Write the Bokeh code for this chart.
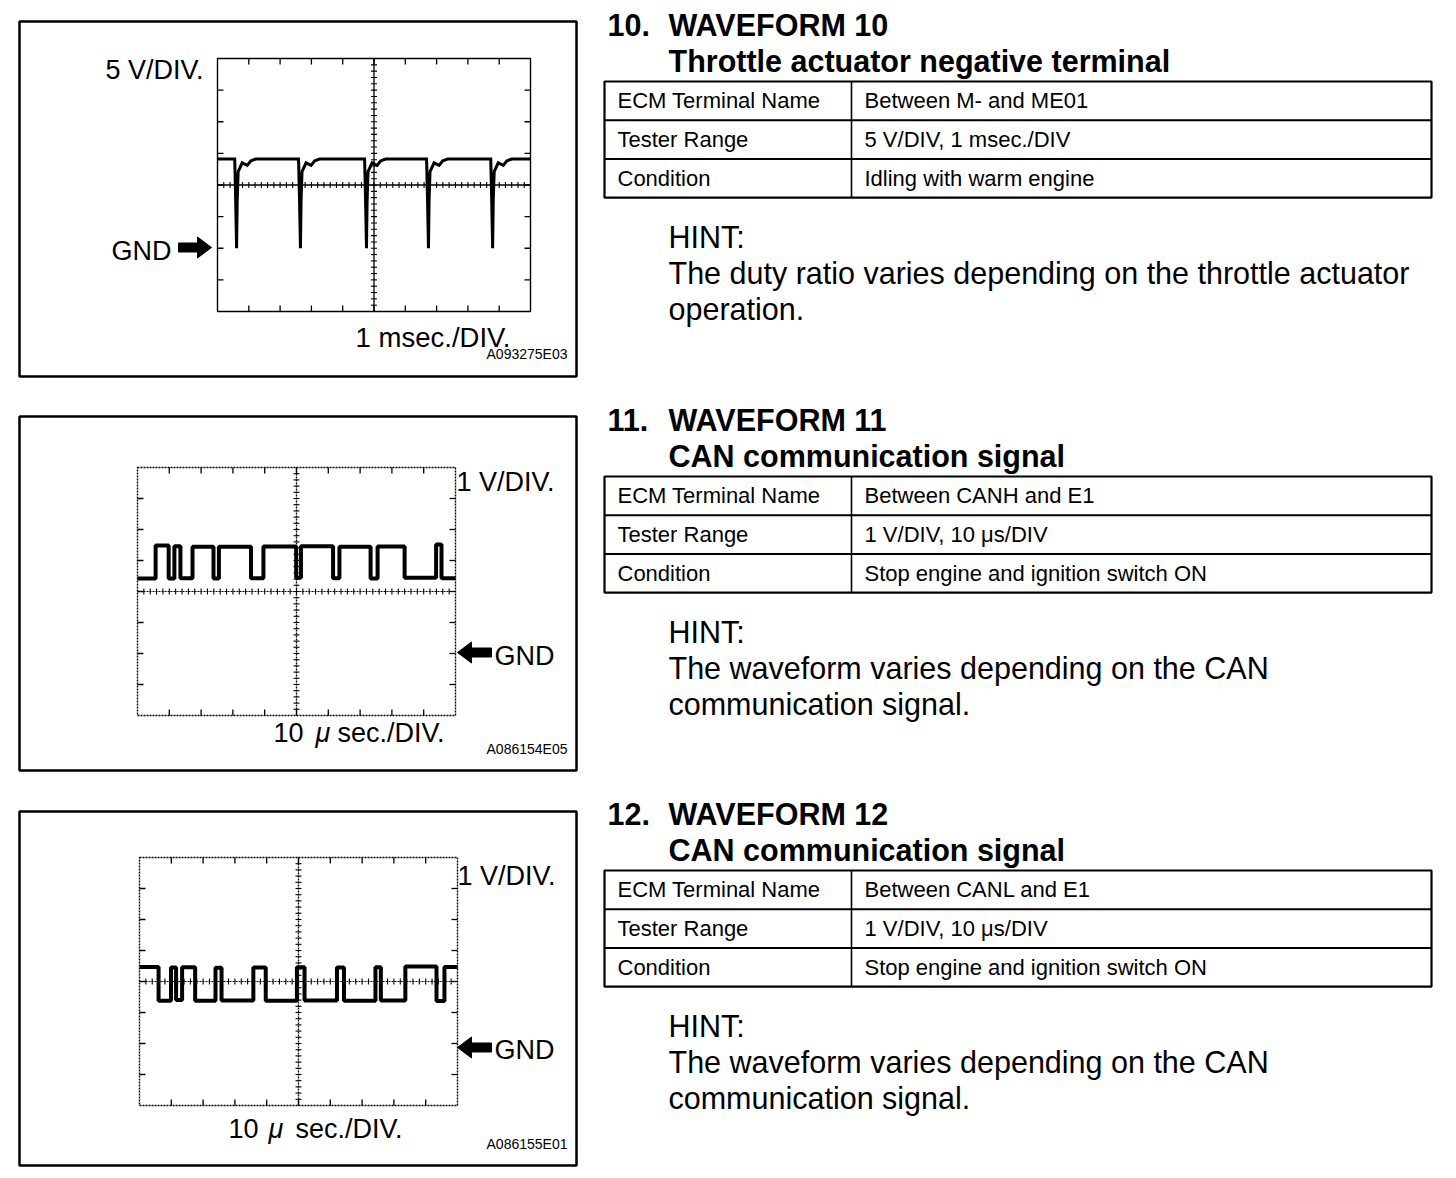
import numpy as np
from bokeh.plotting import figure
from bokeh.models import Range1d
from bokeh.core.properties import value
from bokeh.embed import file_html
from bokeh.resources import INLINE

# ------------------------------------------------------------------ data
# Waveform 10: throttle actuator negative terminal (time in ms, voltage in V)
W10_T_MS = [0.00,
            0.55, 0.58, 0.61, 0.63, 0.66, 0.79, 0.95, 1.06, 1.22,
            2.59, 2.62, 2.65, 2.67, 2.70, 2.83, 2.99, 3.10, 3.26,
            4.70, 4.73, 4.76, 4.78, 4.81, 4.94, 5.10, 5.21, 5.37,
            6.68, 6.71, 6.74, 6.76, 6.79, 6.92, 7.08, 7.19, 7.35,
            8.73, 8.76, 8.79, 8.81, 8.84, 8.97, 9.13, 9.24, 9.40,
            10.00]
W10_V = [14.1,
         14.1, 7.6, 0.0, 7.6, 12.1, 13.5, 13.1, 13.8, 14.1,
         14.1, 7.6, 0.0, 7.6, 12.1, 13.5, 13.1, 13.8, 14.1,
         14.1, 7.6, 0.0, 7.6, 12.1, 13.5, 13.1, 13.8, 14.1,
         14.1, 7.6, 0.0, 7.6, 12.1, 13.5, 13.1, 13.8, 14.1,
         14.1, 7.6, 0.0, 7.6, 12.1, 13.5, 13.1, 13.8, 14.1,
         14.1]

# Waveform 11: CANH (edge times in microseconds, level of each segment in V)
W11_EDGES_US = [0, 5.7, 9.8, 11.6, 13.5, 17.3, 23.9, 25.6, 35.7, 39.6, 49.9,
                51.4, 61.5, 63.5, 73.3, 75.5, 84.0, 93.9, 95.6, 100]
W11_LEVEL_V = [2.42, 3.48, 2.42, 3.46, 2.43, 3.44, 2.42, 3.44, 2.43, 3.45,
               2.44, 3.46, 2.43, 3.44, 2.42, 3.45, 2.44, 3.52, 2.43]

# Waveform 12: CANL
W12_EDGES_US = [0, 6.0, 9.9, 11.5, 13.4, 17.5, 23.9, 25.8, 35.8, 39.7, 49.5,
                51.9, 62.1, 64.3, 74.2, 75.9, 83.6, 93.4, 95.9, 100]
W12_LEVEL_V = [2.47, 1.38, 2.45, 1.40, 2.46, 1.38, 2.44, 1.39, 2.45, 1.38,
               2.46, 1.39, 2.45, 1.38, 2.46, 1.39, 2.48, 1.37, 2.47]

ROW_LABELS = ["ECM Terminal Name", "Tester Range", "Condition"]
BLOCKS = [
    dict(num="10.", title="WAVEFORM 10", sub="Throttle actuator negative terminal",
         rows=["Between M- and ME01", "5 V/DIV, 1 msec./DIV", "Idling with warm engine"],
         hint=["The duty ratio varies depending on the throttle actuator", "operation."]),
    dict(num="11.", title="WAVEFORM 11", sub="CAN communication signal",
         rows=["Between CANH and E1", "1 V/DIV, 10 \u03bcs/DIV", "Stop engine and ignition switch ON"],
         hint=["The waveform varies depending on the CAN", "communication signal."]),
    dict(num="12.", title="WAVEFORM 12", sub="CAN communication signal",
         rows=["Between CANL and E1", "1 V/DIV, 10 \u03bcs/DIV", "Stop engine and ignition switch ON"],
         hint=["The waveform varies depending on the CAN", "communication signal."]),
]

# ------------------------------------------------------------------ canvas
OFF = 0
W, H = 1450, 1176
FONT = value("Liberation Sans")

p = figure(width=W, height=H, x_range=Range1d(0, W), y_range=Range1d(H, 0),
           output_backend="svg", toolbar_location=None, min_border=0,
           x_axis_location=None, y_axis_location=None)
p.xgrid.visible = False
p.ygrid.visible = False
p.outline_line_color = None
p.background_fill_color = "white"
p.border_fill_color = "white"


def txt(x, y, s, size, align="left", bold=False, italic=False):
    style = "bold" if bold else ("italic" if italic else "normal")
    p.text(x=[x - OFF], y=[y - OFF], text=[s], text_font=FONT,
           text_font_size=value(f"{size}px"), text_align=align,
           text_baseline="middle", text_color="black", text_font_style=style)


def box(x0, y0, x1, y1, lw):
    p.quad(left=[x0 - OFF], right=[x1 - OFF], top=[y0 - OFF], bottom=[y1 - OFF],
           fill_color=None, line_color="black", line_width=lw)


def seg(x0, y0, x1, y1, lw):
    p.segment(x0=[x0 - OFF], y0=[y0 - OFF], x1=[x1 - OFF], y1=[y1 - OFF],
              line_color="black", line_width=lw)


def arrow(x_tail, x_tip, y, head_len=14, shaft_h=9, head_h=21):
    d = 1 if x_tip > x_tail else -1
    xb = x_tip - d * head_len
    xs = [x_tail, xb, xb, x_tip, xb, xb, x_tail]
    ys = [y - shaft_h / 2, y - shaft_h / 2, y - head_h / 2, y, y + head_h / 2,
          y + shaft_h / 2, y + shaft_h / 2]
    p.patch([v - OFF for v in xs], [v - OFF for v in ys], fill_color="black",
            line_color="black", line_width=1)


def scope(key, grid, xlim, ylim, dotted):
    gx0, gy0, gx1, gy1 = [v - OFF for v in grid]
    sx = (gx1 - gx0) / (xlim[1] - xlim[0])
    x0 = xlim[0] - gx0 / sx
    p.extra_x_ranges[key] = Range1d(x0, x0 + W / sx)
    sy = (gy1 - gy0) / (ylim[1] - ylim[0])
    y0 = ylim[0] - (H - gy1) / sy
    p.extra_y_ranges[key] = Range1d(y0, y0 + H / sy)
    kw = dict(x_range_name=key, y_range_name=key)

    dash = "2 1" if dotted else "solid"
    dx = (xlim[1] - xlim[0]) / 10
    dy = (ylim[1] - ylim[0]) / 8
    xm = xlim[0] + 5 * dx
    ym = ylim[0] + 4 * dy
    # border
    p.quad(left=[xlim[0]], right=[xlim[1]], bottom=[ylim[0]], top=[ylim[1]],
           fill_color=None, line_color="black", line_width=1.4, line_dash=dash, **kw)
    # centre lines
    p.segment(x0=[xm], y0=[ylim[0]], x1=[xm], y1=[ylim[1]], line_color="black",
              line_width=1.3, line_dash=dash, **kw)
    p.segment(x0=[xlim[0]], y0=[ym], x1=[xlim[1]], y1=[ym], line_color="black",
              line_width=1.6 if not dotted else 1.2, line_dash=dash, **kw)
    # minor ticks on centre lines
    mx = [xlim[0] + k * dx / 5 for k in range(1, 50)]
    my = [ylim[0] + k * dy / 5 for k in range(1, 40)]
    hx = 3.0 / sx
    hy = 3.0 / sy
    p.segment(x0=mx, y0=[ym - hy] * len(mx), x1=mx, y1=[ym + hy] * len(mx),
              line_color="black", line_width=1.1, **kw)
    p.segment(x0=[xm - hx] * len(my), y0=my, x1=[xm + hx] * len(my), y1=my,
              line_color="black", line_width=1.1, **kw)
    # major ticks on edges
    tx = [xlim[0] + k * dx for k in range(1, 10)]
    ty = [ylim[0] + k * dy for k in range(1, 8)]
    L = 6.0
    p.segment(x0=tx, y0=[ylim[1]] * 9, x1=tx, y1=[ylim[1] - L / sy] * 9,
              line_color="black", line_width=1.3, **kw)
    p.segment(x0=tx, y0=[ylim[0]] * 9, x1=tx, y1=[ylim[0] + L / sy] * 9,
              line_color="black", line_width=1.3, **kw)
    p.segment(x0=[xlim[0]] * 7, y0=ty, x1=[xlim[0] + L / sx] * 7, y1=ty,
              line_color="black", line_width=1.3, **kw)
    p.segment(x0=[xlim[1]] * 7, y0=ty, x1=[xlim[1] - L / sx] * 7, y1=ty,
              line_color="black", line_width=1.3, **kw)
    return kw


# ------------------------------------------------------------------ scope 1
box(19, 21, 576, 376, 2.5)
kw1 = scope("s1", (217, 58, 530, 311), (0, 10), (-10, 30), dotted=False)
p.line(W10_T_MS, W10_V, line_color="black", line_width=3.0, line_join="miter", **kw1)
txt(203, 69, "5 V/DIV.", 27, align="right")
txt(111, 250, "GND", 27)
arrow(178, 211, 247)
txt(510, 337, "1 msec./DIV.", 27.5, align="right")
txt(567, 353, "A093275E03", 14, align="right")

# ------------------------------------------------------------------ scope 2
box(19, 416, 576, 770, 2.5)
kw2 = scope("s2", (137, 467, 455, 715), (0, 100), (-2, 6), dotted=True)
p.step(W11_EDGES_US, W11_LEVEL_V + [W11_LEVEL_V[-1]], mode="after",
       line_color="black", line_width=4.0, **kw2)
txt(456, 481, "1 V/DIV.", 27)
arrow(491, 457, 652)
txt(494, 655, "GND", 27)
txt(273, 732, "10", 27)
txt(315, 732, "\u03bc", 27, italic=True)
txt(337, 732, "sec./DIV.", 27)
txt(567, 748, "A086154E05", 14, align="right")

# ------------------------------------------------------------------ scope 3
box(19, 811, 576, 1165, 2.5)
kw3 = scope("s3", (139, 857, 457, 1105), (0, 100), (-2, 6), dotted=True)
p.step(W12_EDGES_US, W12_LEVEL_V + [W12_LEVEL_V[-1]], mode="after",
       line_color="black", line_width=4.0, **kw3)
txt(457, 875, "1 V/DIV.", 27)
arrow(491, 457, 1047)
txt(494, 1049, "GND", 27)
txt(228, 1128, "10", 27)
txt(268, 1128, "\u03bc", 27, italic=True)
txt(295, 1128, "sec./DIV.", 27)
txt(567, 1143, "A086155E01", 14, align="right")

# ------------------------------------------------------------------ text blocks
BLOCK_TOP = [24, 419, 813]
for blk, top in zip(BLOCKS, BLOCK_TOP):
    txt(607, top, blk["num"], 30.5, bold=True)
    txt(668, top, blk["title"], 30.5, bold=True)
    txt(668, top + 36, blk["sub"], 30.5, bold=True)
    t0 = top + 57
    rh = 38.7
    box(604, t0, 1431, t0 + 3 * rh, 2.2)
    seg(604, t0 + rh, 1431, t0 + rh, 2.0)
    seg(604, t0 + 2 * rh, 1431, t0 + 2 * rh, 2.0)
    seg(851, t0, 851, t0 + 3 * rh, 1.6)
    for i, (lab, val) in enumerate(zip(ROW_LABELS, blk["rows"])):
        yy = t0 + rh * (i + 0.5)
        txt(617, yy, lab, 22)
        txt(864, yy, val, 22)
    txt(668, top + 212, "HINT:", 30.5)
    for j, line in enumerate(blk["hint"]):
        txt(668, top + 248 + 36.5 * j, line, 30.5)

open("out.html", "w").write(file_html(p, INLINE))
